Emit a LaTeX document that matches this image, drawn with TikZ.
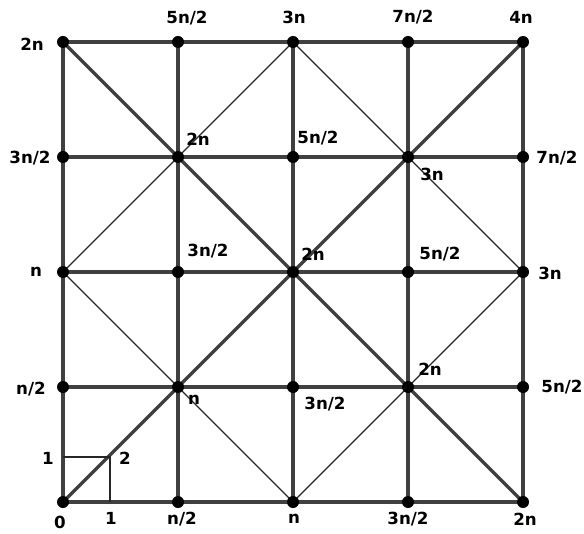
\documentclass[tikz,border=0pt]{standalone}
\usepackage{fontspec}
\setmainfont{DejaVu Sans}
\usetikzlibrary{positioning}
\tikzset{%
  % Specifications for style of the lattice:
    vertex/.style = {circle, fill=black, inner sep=0pt, minimum size=9pt},
  gridline/.style = {draw=black!75, line width=2.5pt},
  thinline/.style = {draw=black!85, line width=0.9pt},
  unitline/.style = {draw=black!85, line width=1.1pt},
       lab/.style = {inner sep=0pt, font=\bfseries\fontsize{12.5}{15}\selectfont},
}
\begin{document}
\begin{tikzpicture}[x=0.75pt, y=-0.75pt]
\useasboundingbox (0,0) rectangle (584,534);

% lattice points
\foreach \i in {0,...,4}
  \foreach \j in {0,...,4}
    \coordinate (v-\i-\j) at (63+115*\i, 502-115*\j);
\coordinate (sq) at (110,457);

% grid and diagonals
\foreach \k in {0,...,4} {
  \draw[gridline] (v-0-\k) -- (v-4-\k);
  \draw[gridline] (v-\k-0) -- (v-\k-4);
}
\draw[gridline] (v-0-0) -- (v-4-4);
\draw[gridline] (v-0-4) -- (v-4-0);
\draw[thinline] (v-0-2) -- (v-2-4) -- (v-4-2) -- (v-2-0) -- cycle;
\draw[unitline] (v-0-0 |- sq) -- (sq) -- (sq |- v-0-0);

\foreach \i in {0,...,4}
  \foreach \j in {0,...,4}
    \node (d-\i-\j) [vertex] at (v-\i-\j) {};

% top row
\node (l-0-4) [lab] at ([shift={(-31,2)}]v-0-4)  {2n};
\node (l-1-4) [lab] at ([shift={(9,-24)}]v-1-4)  {5n/2};
\node (l-2-4) [lab] at ([shift={(1,-25)}]v-2-4)  {3n};
\node (l-3-4) [lab] at ([shift={(5,-25)}]v-3-4)  {7n/2};
\node (l-4-4) [lab] at ([shift={(-2,-25)}]v-4-4) {4n};
% second row
\node (l-0-3) [lab] at ([shift={(-33,1)}]v-0-3)  {3n/2};
\node (l-1-3) [lab] at ([shift={(20,-18)}]v-1-3) {2n};
\node (l-2-3) [lab] at ([shift={(25,-19)}]v-2-3) {5n/2};
\node (l-3-3) [lab] at ([shift={(24,17)}]v-3-3)  {3n};
\node (l-4-3) [lab] at ([shift={(34,1)}]v-4-3)   {7n/2};
% middle row
\node (l-0-2) [lab] at ([shift={(-27,0)}]v-0-2)  {n};
\node (l-1-2) [lab] at ([shift={(30,-21)}]v-1-2) {3n/2};
\node (l-2-2) [lab] at ([shift={(20,-18)}]v-2-2) {2n};
\node (l-3-2) [lab] at ([shift={(32,-18)}]v-3-2) {5n/2};
\node (l-4-2) [lab] at ([shift={(27,1)}]v-4-2)   {3n};
% fourth row
\node (l-0-1) [lab] at ([shift={(-32,2)}]v-0-1)  {n/2};
\node (l-1-1) [lab] at ([shift={(16,13)}]v-1-1)  {n};
\node (l-2-1) [lab] at ([shift={(32,17)}]v-2-1)  {3n/2};
\node (l-3-1) [lab] at ([shift={(22,-18)}]v-3-1) {2n};
\node (l-4-1) [lab] at ([shift={(39,0)}]v-4-1)   {5n/2};
% bottom row
\node (l-0-0) [lab] at ([shift={(-3,20)}]v-0-0)  {0};
\node (l-1-0) [lab] at ([shift={(4,17)}]v-1-0)   {n/2};
\node (l-2-0) [lab] at ([shift={(1,17)}]v-2-0)   {n};
\node (l-3-0) [lab] at ([shift={(0,17)}]v-3-0)   {3n/2};
\node (l-4-0) [lab] at ([shift={(2,17)}]v-4-0)   {2n};
% unit square
\node (u-x) [lab] at ([shift={(1,16)}]sq |- v-0-0) {1};
\node (u-y) [lab] at ([shift={(-15,1)}]v-0-0 |- sq) {1};
\node (u-d) [lab] at ([shift={(15,1)}]sq)           {2};
\end{tikzpicture}
\end{document}
